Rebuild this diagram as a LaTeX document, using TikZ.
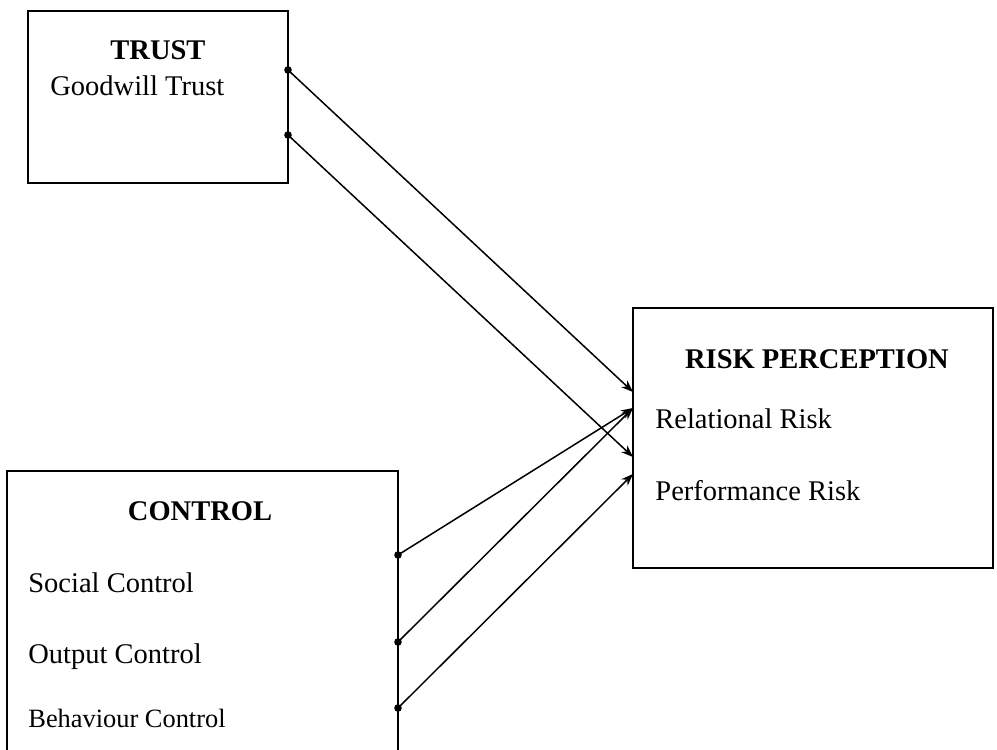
\documentclass[tikz,border=0pt]{standalone}
\usepackage{fontspec}
\setmainfont{Liberation Serif}
\usetikzlibrary{positioning,arrows.meta}

\begin{document}
\begin{tikzpicture}[x=0.5pt, y=-0.5pt,
        box/.style={draw, line width=0.9pt, inner sep=0pt},
        head/.style={inner sep=0pt, anchor=base, font=\fontsize{14.25}{17}\selectfont\bfseries},
        item/.style={inner sep=0pt, anchor=base west, font=\fontsize{14.25}{17}\selectfont},
        dot/.style={circle, fill, inner sep=0pt, minimum size=3.8pt},
        link/.style={line width=0.75pt, -{Stealth[length=6pt,width=4.5pt]}}]
        \useasboundingbox (0,0) rectangle (997,750);
        % boxes
        \node[box, minimum width=130pt, minimum height=86pt] (trust) at (158,97) {};
        \node[box, minimum width=195.5pt, minimum height=144.5pt] (control) at (202.5,615.5) {};
        \node[box, minimum width=180pt, minimum height=130pt] (risk) at (813,438) {};
        % texts
        \node[head] (trusthd) at (158,59) {TRUST};
        \node[item] (goodwill) at (50,95) {Goodwill Trust};
        \node[head] (controlhd) at (200,520) {CONTROL};
        \node[item] (social) at (28,592) {Social Control};
        \node[item] (output) at (28,663) {Output Control};
        \node[item, font=\fontsize{13.2}{16}\selectfont] (behaviour) at (28,727) {Behaviour Control};
        \node[head] (riskhd) at (817,368) {RISK PERCEPTION};
        \node[item] (relational) at (655,428) {Relational Risk};
        \node[item] (performance) at (655,500) {Performance Risk};
        % link ends
        \node[dot] (t1) at (288,70) {};
        \node[dot] (t2) at (288,135) {};
        \node[dot] (c1) at (398,555) {};
        \node[dot] (c2) at (398,642) {};
        \node[dot] (c3) at (398,708) {};
        \coordinate (r1) at (633,392);
        \coordinate (r2) at (633,408);
        \coordinate (r3) at (633,457);
        \coordinate (r4) at (633,474);
        \draw[link] (t1.center) -- (r1);
        \draw[link] (t2.center) -- (r3);
        \draw[link] (c1.center) -- (r2);
        \draw[link] (c2.center) -- (r2);
        \draw[link] (c3.center) -- (r4);
\end{tikzpicture}
\end{document}
